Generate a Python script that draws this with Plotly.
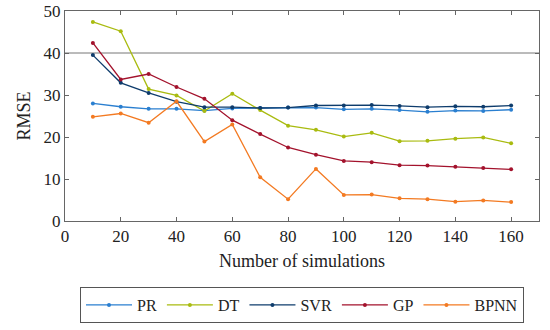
import plotly.graph_objects as go

sims = [10, 20, 30, 40, 50, 60, 70, 80, 90, 100, 110, 120, 130, 140, 150, 160]
pr = [28.0, 27.2, 26.7, 26.7, 26.3, 26.8, 26.9, 27.0, 27.0, 26.6, 26.7, 26.4, 26.0, 26.3, 26.2, 26.5]
dt = [47.4, 45.2, 31.4, 29.9, 26.2, 30.3, 26.4, 22.7, 21.7, 20.1, 21.0, 19.0, 19.1, 19.6, 19.9, 18.5]
svr = [39.5, 32.9, 30.5, 28.4, 27.1, 27.1, 26.9, 27.0, 27.5, 27.5, 27.6, 27.4, 27.1, 27.3, 27.2, 27.5]
gp = [42.4, 33.7, 35.0, 31.9, 29.1, 24.0, 20.7, 17.5, 15.8, 14.3, 14.0, 13.3, 13.2, 12.9, 12.6, 12.3]
bpnn = [24.8, 25.6, 23.4, 28.5, 18.9, 23.0, 10.4, 5.2, 12.4, 6.2, 6.3, 5.4, 5.2, 4.6, 4.9, 4.5]

series = [
    ("PR", pr, "#2a7fd0"),
    ("DT", dt, "#a9bb10"),
    ("SVR", svr, "#0e3c6c"),
    ("GP", gp, "#a3122c"),
    ("BPNN", bpnn, "#f37a22"),
]

fig = go.Figure()
for name, vals, col in series:
    fig.add_trace(go.Scatter(
        x=sims, y=vals, name=name, mode="lines+markers",
        line=dict(color=col, width=1.3),
        marker=dict(color=col, size=4),
    ))

font_family = "Liberation Serif"
axis_common = dict(
    showgrid=False, zeroline=False, showline=True, linecolor="#666666", linewidth=1,
    mirror="allticks", ticks="inside", ticklen=4, tickcolor="#666666",
    tickfont=dict(family=font_family, size=17, color="#222222"),
    automargin=False, ticklabeloverflow="allow",
)

fig.update_layout(
    width=550, height=330,
    margin=dict(l=65, r=11, t=11, b=109, autoexpand=False),
    plot_bgcolor="white", paper_bgcolor="white",
    font=dict(family=font_family, size=17, color="#222222"),
    xaxis=dict(range=[0, 170], tickvals=[0, 20, 40, 60, 80, 100, 120, 140, 160],
               title=dict(text="Number of simulations", standoff=8,
                          font=dict(family=font_family, size=18)),
               **axis_common),
    yaxis=dict(range=[0, 50], tickvals=[0, 10, 20, 30, 40, 50],
               title=dict(text="RMSE", standoff=8, font=dict(family=font_family, size=18)),
               **axis_common),
    legend=dict(orientation="h", x=0.5, xanchor="center", y=-0.486, yanchor="bottom",
                bordercolor="#555555", borderwidth=1,
                font=dict(family=font_family, size=16, color="#222222"),
                itemwidth=46),
    shapes=[dict(type="line", xref="paper", x0=0, x1=1, yref="y", y0=40, y1=40,
                 line=dict(color="#777777", width=1), layer="below")],
)

# Remove the browser's default 8px body margin so the figure fills the window exactly.
fig.write_html("out.html", post_script="document.body.style.margin='0';",
               config={"displayModeBar": False})
